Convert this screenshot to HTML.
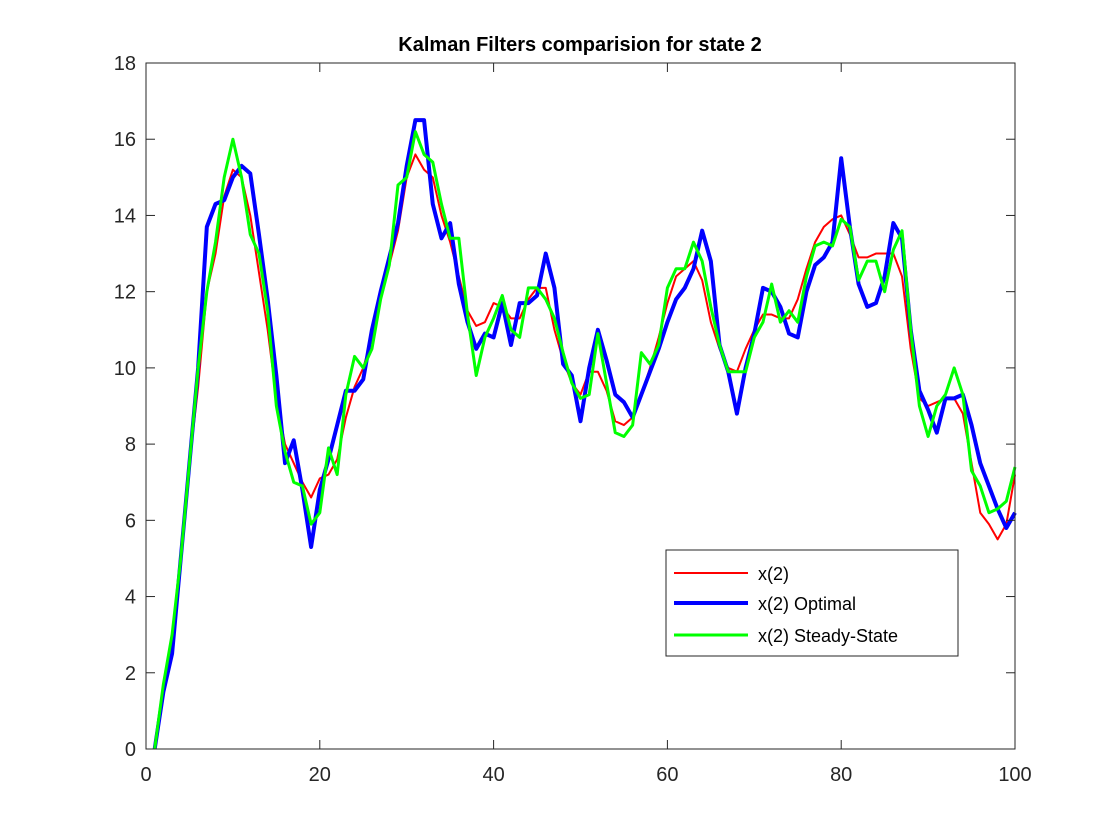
<!DOCTYPE html>
<html><head><meta charset="utf-8"><style>
html,body{margin:0;padding:0;background:#fff;}
svg{display:block;font-family:"Liberation Sans",Arial,sans-serif;}
</style></head><body>
<svg id="chart" width="1120" height="840">
<rect x="0" y="0" width="1120" height="840" fill="#fff"/>
<text x="580" y="51" text-anchor="middle" font-size="20" font-weight="bold" fill="#000">Kalman Filters comparision for state 2</text>
<g id="plot"></g>
<g id="axes"></g>
<g id="legend">
<rect x="666" y="550" width="292" height="106" fill="#fff" stroke="#262626" stroke-width="1"/>
<g><line x1="674" y1="573" x2="748" y2="573" stroke="#ff0000" stroke-width="2"/><text x="758" y="580" font-size="18" fill="#000">x(2)</text></g>
<g><line x1="674" y1="603" x2="748" y2="603" stroke="#0000ff" stroke-width="4"/><text x="758" y="610" font-size="18" fill="#000">x(2) Optimal</text></g>
<g><line x1="674" y1="635" x2="748" y2="635" stroke="#00ff00" stroke-width="3"/><text x="758" y="642" font-size="18" fill="#000">x(2) Steady-State</text></g>
</g>
</svg>
<script>
const xTicks=[0,20,40,60,80,100];
const yTicks=[0,2,4,6,8,10,12,14,16,18];
const actual=[0,1.7,3,5,7.5,9.5,12,13,14.5,15.2,15,14,12.5,11,9.2,8,7.5,7,6.6,7.1,7.2,7.6,8.7,9.5,10,10.8,11.8,12.7,13.6,15,15.6,15.2,15,14,13.3,12.4,11.5,11.1,11.2,11.7,11.6,11.3,11.3,11.8,12.1,12.1,11,10.2,9.6,9.3,9.9,9.9,9.4,8.6,8.5,8.7,9.3,10,10.8,11.7,12.4,12.6,12.8,12.3,11.2,10.5,10,9.9,10.5,11,11.4,11.4,11.3,11.3,11.8,12.6,13.3,13.7,13.9,14,13.5,12.9,12.9,13,13,13,12.4,10.5,9.2,9,9.1,9.2,9.2,8.8,7.5,6.2,5.9,5.5,5.9,7.2];
const optimal=[0,1.5,2.5,5,7.5,10,13.7,14.3,14.4,15,15.3,15.1,13.5,11.8,9.8,7.5,8.1,6.8,5.3,6.8,7.6,8.5,9.4,9.4,9.7,11,12,12.9,13.8,15.3,16.5,16.5,14.3,13.4,13.8,12.2,11.2,10.5,10.9,10.8,11.7,10.6,11.7,11.7,11.9,13,12.1,10.1,9.8,8.6,10,11,10.2,9.3,9.1,8.7,9.3,9.9,10.5,11.2,11.8,12.1,12.6,13.6,12.8,10.6,9.9,8.8,10,10.9,12.1,12,11.6,10.9,10.8,12,12.7,12.9,13.3,15.5,13.7,12.2,11.6,11.7,12.4,13.8,13.4,11,9.4,8.9,8.3,9.2,9.2,9.3,8.5,7.5,6.9,6.3,5.8,6.2];
const steady=[0,1.7,3,5,7.5,10,12,13.3,15,16,15,13.5,13,11.5,9,7.8,7,6.9,5.9,6.2,7.9,7.2,9.3,10.3,10,10.5,11.8,12.7,14.8,15,16.2,15.6,15.4,14.3,13.4,13.4,11.4,9.8,10.8,11.3,11.9,11,10.8,12.1,12.1,11.8,11.3,10.4,9.6,9.2,9.3,10.9,9.6,8.3,8.2,8.5,10.4,10.1,10.6,12.1,12.6,12.6,13.3,12.8,11.6,10.6,9.9,9.9,9.9,10.8,11.2,12.2,11.2,11.5,11.2,12.4,13.2,13.3,13.2,13.9,13.7,12.3,12.8,12.8,12,13.1,13.6,11,9,8.2,9,9.3,10,9.3,7.3,6.9,6.2,6.3,6.5,7.4];

const L=146,R=1015,T=63,B=749;
const sx=v=>L+(v-0)/(100-0)*(R-L);
const sy=v=>B-(v-0)/(18-0)*(B-T);
const NS="http://www.w3.org/2000/svg";
const plot=document.getElementById('plot');
const axes=document.getElementById('axes');
function mk(tag,attrs,parent){const e=document.createElementNS(NS,tag);for(const k in attrs)e.setAttribute(k,attrs[k]);parent.appendChild(e);return e;}

function drawSeries(vals,color,w,name){
  const pts=vals.map((v,i)=>sx(i+1).toFixed(2)+","+sy(v).toFixed(2)).join(" ");
  const p=mk('polyline',{points:pts,fill:'none',stroke:color,'stroke-width':w,'stroke-linejoin':'round'},plot);
  
  
}
drawSeries(actual,'#ff0000',2,'series-x2');
drawSeries(optimal,'#0000ff',4,'series-x2-optimal');
drawSeries(steady,'#00ff00',3,'series-x2-steady-state');

const box=mk('rect',{x:L,y:T,width:R-L,height:B-T,fill:'none',stroke:'#262626','stroke-width':1},axes);


xTicks.forEach(t=>{
  const x=sx(t);
  mk('line',{x1:x,y1:B,x2:x,y2:B-9,stroke:'#262626'},axes);
  mk('line',{x1:x,y1:T,x2:x,y2:T+9,stroke:'#262626'},axes);
  const tx=mk('text',{x:x,y:B+32,'text-anchor':'middle','font-size':20,fill:'#262626'},axes);
  tx.textContent=t;
  
  
});
yTicks.forEach(t=>{
  const y=sy(t);
  mk('line',{x1:L,y1:y,x2:L+9,y2:y,stroke:'#262626'},axes);
  mk('line',{x1:R,y1:y,x2:R-9,y2:y,stroke:'#262626'},axes);
  const tx=mk('text',{x:L-10,y:y+7,'text-anchor':'end','font-size':20,fill:'#262626'},axes);
  tx.textContent=t;
  
  
});
</script>
</body></html>
